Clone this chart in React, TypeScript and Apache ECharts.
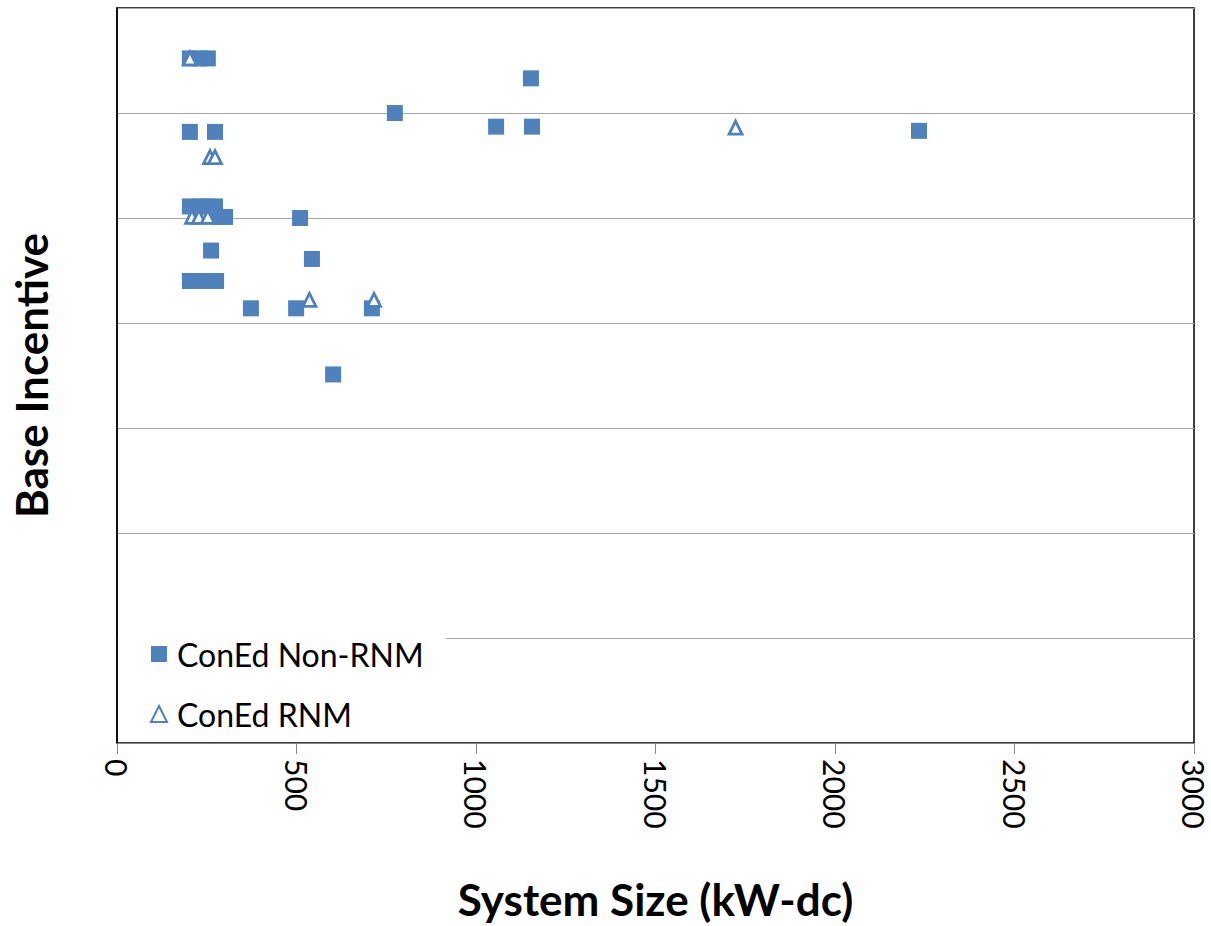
import React, { useEffect, useRef } from "react";
import * as echarts from "echarts";

const nonRnmX = [203, 228, 253, 1153, 774, 1056, 1156, 2234, 203, 273, 203, 228, 251, 273, 281, 301, 510, 262, 543, 203, 228, 251, 276, 373, 499, 710, 602];
const nonRnmY = [6.52, 6.52, 6.52, 6.33, 6.0, 5.87, 5.87, 5.83, 5.82, 5.82, 5.11, 5.11, 5.11, 5.11, 5.01, 5.01, 5.0, 4.69, 4.61, 4.4, 4.4, 4.4, 4.4, 4.14, 4.14, 4.14, 3.51];
const rnmX = [203, 259, 273, 209, 228, 253, 536, 716, 1723];
const rnmY = [6.52, 5.58, 5.58, 5.01, 5.01, 5.01, 4.22, 4.22, 5.86];
const xTicks = [0, 500, 1000, 1500, 2000, 2500, 3000];
const seriesNames = ["ConEd Non-RNM", "ConEd RNM"];

const BLUE = "#4f81bd";
const FONT = "Lato, 'Open Sans', sans-serif";

export default function App() {
  const ref = useRef<HTMLDivElement>(null);
  useEffect(() => {
    if (!ref.current) return;
    const chart = echarts.init(ref.current, undefined, { renderer: "svg" });
    chart.setOption({
      animation: false,
      backgroundColor: "#fff",
      grid: {
        left: 117,
        right: 17,
        top: 8,
        bottom: 181,
        show: true,
        borderColor: "#000",
        borderWidth: 1.5,
      },
      legend: {
        orient: "vertical",
        left: 118,
        top: 638,
        padding: [0, 22, 6, 32],
        backgroundColor: "#fff",
        itemWidth: 16,
        itemHeight: 16,
        itemGap: 28,
        textStyle: {
          fontFamily: FONT,
          fontSize: 32,
          color: "#000",
          lineHeight: 30,
          padding: [0, 0, 0, 5],
        },
        data: seriesNames,
      },
      xAxis: {
        type: "value",
        min: 0,
        max: 3000,
        interval: 500,
        name: "System Size (kW-dc)",
        nameLocation: "middle",
        nameGap: 134,
        nameTextStyle: { fontFamily: FONT, fontSize: 44, fontWeight: "bold", color: "#000" },
        axisLine: { show: true, lineStyle: { color: "#868686", width: 1 } },
        axisTick: { show: true, length: 11, lineStyle: { color: "#868686" } },
        splitLine: { show: false },
        axisLabel: {
          rotate: -90,
          margin: 16,
          fontFamily: FONT,
          fontSize: 30,
          color: "#000",
          formatter: (v: number) => (xTicks.includes(v) ? String(v) : ""),
        },
      },
      yAxis: {
        type: "value",
        min: 0,
        max: 7,
        interval: 1,
        name: "Base Incentive",
        nameLocation: "middle",
        nameGap: 64,
        nameTextStyle: { fontFamily: FONT, fontSize: 44, fontWeight: "bold", color: "#000" },
        axisLine: { show: true, lineStyle: { color: "#000", width: 1.5 } },
        axisTick: { show: false },
        axisLabel: { show: false },
        splitLine: { show: true, lineStyle: { color: "#a6a6a6", width: 1 } },
      },
      series: [
        {
          name: seriesNames[0],
          type: "scatter",
          symbol: "rect",
          symbolSize: 16,
          itemStyle: { color: BLUE, opacity: 1 },
          data: nonRnmX.map((x, i) => [x, nonRnmY[i]]),
          z: 2,
        },
        {
          name: seriesNames[1],
          type: "scatter",
          symbol: "triangle",
          symbolSize: 13,
          itemStyle: { color: "#fff", borderColor: BLUE, borderWidth: 2.8, opacity: 1 },
          data: rnmX.map((x, i) => [x, rnmY[i]]),
          z: 3,
        },
      ],
    });
    return () => chart.dispose();
  }, []);
  return (
    <div
      ref={ref}
      style={{ position: "fixed", left: 0, top: 0, width: 1211, height: 926 }}
    />
  );
}
